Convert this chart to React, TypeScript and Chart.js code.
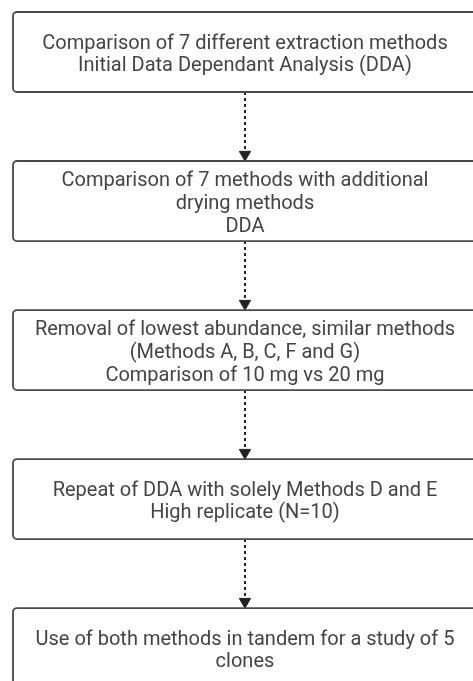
import React, { useEffect, useRef } from "react";
import { Chart, registerables } from "chart.js";

Chart.register(...registerables);

// Flow steps (top to bottom)
const stepLines: string[][] = [
  ["Comparison of 7 different extraction methods", "Initial Data Dependant Analysis (DDA)"],
  ["Comparison of 7 methods with additional", "drying methods", "DDA"],
  ["Removal of lowest abundance, similar methods", "(Methods A, B, C, F and G)", "Comparison of 10 mg vs 20 mg"],
  ["Repeat of DDA with solely Methods D and E", "High replicate (N=10)"],
  ["Use of both methods in tandem for a study of 5", "clones"],
];
// stage index of each step on the vertical axis
const stepIndex: number[] = [0, 1, 2, 3, 4];
// links between consecutive steps [from, to]
const links: [number, number][] = [
  [0, 1],
  [1, 2],
  [2, 3],
  [3, 4],
];

const BOX_HALF_H = 0.2685; // in stage units
const BOX_HALF_W = 1; // in x units

const boxPlugin = {
  id: "flowBoxes",
  afterDatasetsDraw(chart: any) {
    const { ctx, scales } = chart;
    const xs = scales.x;
    const ys = scales.y;
    ctx.save();
    stepIndex.forEach((s, i) => {
      const left = xs.getPixelForValue(-BOX_HALF_W);
      const right = xs.getPixelForValue(BOX_HALF_W);
      const top = ys.getPixelForValue(s - BOX_HALF_H);
      const bottom = ys.getPixelForValue(s + BOX_HALF_H);
      ctx.beginPath();
      ctx.lineWidth = 1.8;
      ctx.strokeStyle = "#4a4a4a";
      ctx.fillStyle = "#ffffff";
      (ctx as any).roundRect(left, top, right - left, bottom - top, 4);
      ctx.fill();
      ctx.stroke();
      const lines = stepLines[i];
      const cx = xs.getPixelForValue(0);
      const cy = ys.getPixelForValue(s) + 3;
      const lh = lines.length > 2 ? 23 : 22;
      ctx.fillStyle = "#444444";
      ctx.font = "20px Roboto";
      ctx.textAlign = "center";
      ctx.textBaseline = "middle";
      lines.forEach((t, k) => {
        const y = cy + (k - (lines.length - 1) / 2) * lh;
        ctx.fillText(t, cx, y);
      });
    });
    ctx.restore();
  },
};

export default function App() {
  const ref = useRef<HTMLCanvasElement | null>(null);
  useEffect(() => {
    if (!ref.current) return;
    const datasets: any[] = links.map(([a, b]) => ({
      type: "line",
      data: [
        { x: 0, y: stepIndex[a] + BOX_HALF_H },
        { x: 0, y: stepIndex[b] - BOX_HALF_H - 0.06 },
      ],
      borderColor: "#222222",
      borderWidth: 2,
      borderDash: [3, 3],
      pointRadius: 0,
      fill: false,
    }));
    datasets.push({
      type: "scatter",
      data: links.map(([, b]) => ({ x: 0, y: stepIndex[b] - BOX_HALF_H - 0.043 })),
      pointStyle: "triangle",
      rotation: 180,
      pointRadius: 6.5,
      backgroundColor: "#222222",
      borderColor: "#222222",
      borderWidth: 1,
    });
    const chart = new Chart(ref.current, {
      type: "scatter",
      data: { datasets },
      options: {
        animation: false,
        responsive: true,
        maintainAspectRatio: false,
        layout: { padding: 0, autoPadding: false },
        plugins: { legend: { display: false }, tooltip: { enabled: false } },
        scales: {
          x: { type: "linear", min: -1.056, max: 0.983, display: false },
          y: { type: "linear", min: -0.349, max: 4.221, reverse: true, display: false },
        },
      },
      plugins: [boxPlugin],
    });
    return () => chart.destroy();
  }, []);
  return (
    <div style={{ position: "absolute", left: 0, top: 0, width: 473, height: 681, background: "#fff" }}>
      <canvas ref={ref} />
    </div>
  );
}
